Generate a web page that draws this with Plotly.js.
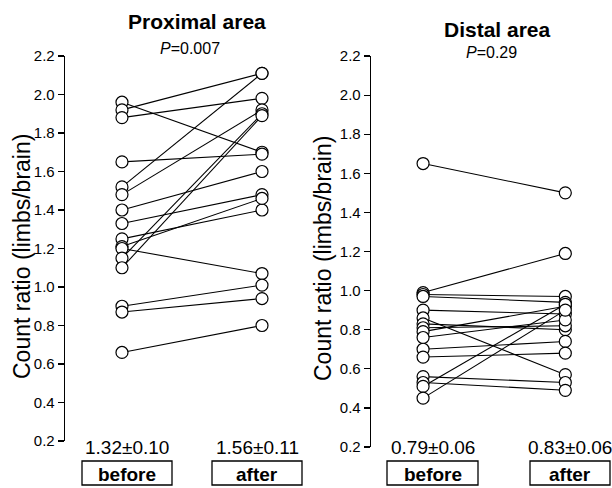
<!DOCTYPE html>
<html>
<head>
<meta charset="utf-8">
<script src="https://cdn.plot.ly/plotly-3.0.1.min.js"></script>
<style>html,body{margin:0;padding:0;background:#fff;}#chart{width:612px;height:488px;}</style>
</head>
<body>
<div id="chart"></div>
<script>
// Proximal area: paired count ratios (before -> after)
var proxBefore = [1.96, 1.92, 1.88, 1.65, 1.52, 1.48, 1.40, 1.33, 1.25, 1.21, 1.20, 1.15, 1.10, 0.90, 0.87, 0.66];
var proxAfter  = [1.70, 2.11, 1.98, 1.69, 2.11, 1.92, 1.60, 1.48, 1.40, 1.46, 1.07, 1.90, 1.89, 1.01, 0.94, 0.80];
// Distal area
var distBefore = [1.65, 0.99, 0.98, 0.97, 0.90, 0.86, 0.83, 0.81, 0.79, 0.76, 0.70, 0.66, 0.56, 0.53, 0.51, 0.45];
var distAfter  = [1.50, 1.19, 0.97, 0.94, 0.88, 0.57, 0.80, 0.82, 0.92, 0.85, 0.74, 0.68, 0.53, 0.49, 0.93, 0.90];

var groups = ["before", "after"];
var panelTitles = ["Proximal area", "Distal area"];
var pValues = ["0.007", "0.29"];
var meanLabels = [["1.32±0.10", "1.56±0.11"], ["0.79±0.06", "0.83±0.06"]];
var yTicks = [0.2, 0.4, 0.6, 0.8, 1.0, 1.2, 1.4, 1.6, 1.8, 2.0, 2.2];
var yTitle = "Count ratio (limbs/brain)";

function pairTrace(b, a, xa, ya) {
  var xs = [], ys = [];
  for (var i = 0; i < b.length; i++) {
    xs.push(0, 1, null);
    ys.push(b[i], a[i], null);
  }
  return {
    x: xs, y: ys, xaxis: xa, yaxis: ya, type: 'scatter', mode: 'lines+markers',
    line: {color: '#000', width: 1.1},
    marker: {symbol: 'circle', size: 12, color: '#fff', line: {color: '#000', width: 1.2}},
    cliponaxis: false, hoverinfo: 'skip', showlegend: false
  };
}

var data = [
  pairTrace(proxBefore, proxAfter, 'x', 'y'),
  pairTrace(distBefore, distAfter, 'x2', 'y2')
];

function px(x) { return x / 612; }
function py(y) { return 1 - y / 488; }

var font = 'Liberation Sans, Arial';
var yax = {
  range: [0.2, 2.2], tickvals: yTicks, ticktext: yTicks.map(function(v){return v.toFixed(1);}),
  showline: true, linecolor: '#000', linewidth: 1.3, ticks: 'outside', ticklen: 6, tickwidth: 1.2, tickcolor: '#000',
  showgrid: false, zeroline: false, tickfont: {family: font, size: 15, color: '#000'}
};
var xax = {range: [-0.407, 1.3], visible: false, fixedrange: true};

var layout = {
  width: 612, height: 488, margin: {l: 0, r: 0, t: 0, b: 0},
  paper_bgcolor: '#fff', plot_bgcolor: 'rgba(0,0,0,0)',
  xaxis: Object.assign({}, xax, {domain: [px(65), px(304)], anchor: 'y'}),
  yaxis: Object.assign({}, yax, {domain: [py(441), py(56)], anchor: 'x'}),
  xaxis2: Object.assign({}, xax, {range: [-0.366, 1.3], domain: [px(371), px(608)], anchor: 'y2'}),
  yaxis2: Object.assign({}, yax, {domain: [py(447), py(56)], anchor: 'x2'}),
  shapes: [], annotations: []
};

function ann(x, y, text, size, angle) {
  return {xref: 'paper', yref: 'paper', x: px(x), y: py(y), xanchor: 'center', yanchor: 'middle',
    text: text, showarrow: false, textangle: angle || 0, font: {family: font, size: size, color: '#000'}};
}

var titlePos = [[197, 22], [497, 29]];
var pPos = [[190, 48], [491, 53]];
var yTitlePos = [[22, 257], [323, 259]];
for (var k = 0; k < 2; k++) {
  layout.annotations.push(ann(titlePos[k][0], titlePos[k][1], '<b>' + panelTitles[k] + '</b>', 21));
  layout.annotations.push(ann(pPos[k][0], pPos[k][1], '<i>P</i>=' + pValues[k], 16));
  layout.annotations.push(ann(yTitlePos[k][0], yTitlePos[k][1], yTitle, 23, -90));
}

var boxes = [[[82, 172], [212, 302]], [[387, 478], [530, 610]]];
for (var p = 0; p < 2; p++) {
  for (var g = 0; g < 2; g++) {
    var bx = boxes[p][g];
    var cx = (bx[0] + bx[1]) / 2;
    layout.annotations.push(ann(cx, 447, meanLabels[p][g], 19));
    layout.shapes.push({type: 'rect', xref: 'paper', yref: 'paper', x0: px(bx[0]), x1: px(bx[1]),
      y0: py(485), y1: py(461), line: {color: '#000', width: 1.3}, fillcolor: 'rgba(0,0,0,0)'});
    layout.annotations.push(ann(cx, 474, '<b>' + groups[g] + '</b>', 19));
  }
}

Plotly.newPlot('chart', data, layout, {displayModeBar: false, staticPlot: true});
</script>
</body>
</html>
